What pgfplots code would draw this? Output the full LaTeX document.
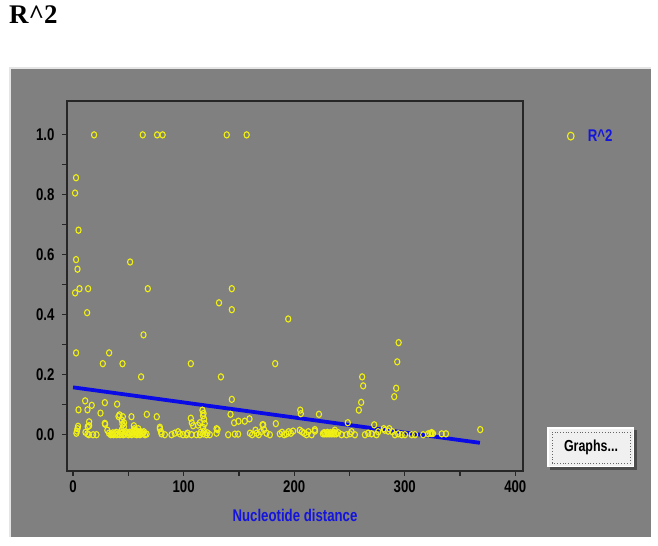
\documentclass[border=0pt]{standalone}
\usepackage{pgfplots}
\pgfplotsset{compat=1.18}
\usepackage{fontspec}
\setmainfont{Liberation Sans}
\newfontfamily\uifont[FakeStretch=0.78]{Liberation Sans}
\newfontfamily\titlefont{Liberation Serif}
\definecolor{panelgray}{RGB}{128,128,128}
\definecolor{dotyellow}{RGB}{240,240,20}
\definecolor{fitblue}{RGB}{10,10,230}
\definecolor{labelblue}{RGB}{20,20,220}
\begin{document}
\begin{tikzpicture}
\begin{scope}[x=1bp,y=1bp]
% canvas and panel
\fill[white] (0,0) rectangle (658,546);
\fill[panelgray] (9,9) rectangle (651,479);
\draw[gray!20,line width=2bp] (10,9) -- (10,478) -- (651,478);
\node[anchor=base west,inner sep=0pt,font=\titlefont\bfseries\fontsize{27}{27}\selectfont] at (9,522) {R\^{}2};
% button
\fill[black!70] (550,76) rectangle (637,116);
\fill[white] (547,79) rectangle (634,119);
\fill[gray!12] (549,80) rectangle (633,117);
\draw[black!60,dotted,line width=0.8bp] (552,83) rectangle (630,114);
\node[font=\uifont\bfseries\fontsize{16}{16}\selectfont] at (591,99) {Graphs...};
\end{scope}
\begin{axis}[
  at={(67bp,75bp)}, anchor=south west,
  scale only axis, width=456bp, height=370bp,
  xmin=-5.5, xmax=407, ymin=-0.121, ymax=1.113,
  axis line style={black!85,line width=1.2bp},
  axis background/.style={fill=panelgray},
  xtick={0,100,200,300,400}, xticklabels={0,100,200,300,400},
  minor xtick={50,150,250,350},
  ytick={0,0.2,0.4,0.6,0.8,1.0}, yticklabels={0.0,0.2,0.4,0.6,0.8,1.0},
  minor ytick={0.1,0.3,0.5,0.7,0.9},
  tick align=outside, xtick pos=bottom, ytick pos=left,
  major tick length=5bp, minor tick length=5bp,
  tick style={black!85,line width=1.2bp},
  tick label style={font=\uifont\bfseries\fontsize{17}{17}\selectfont,black},
  yticklabel style={xshift=-4bp},
  xticklabel style={yshift=-1bp},
  xlabel={Nucleotide distance},
  xlabel style={font=\uifont\bfseries\fontsize{17}{17}\selectfont,text=labelblue,yshift=-10bp},
  legend style={at={(1.078,0.905)},anchor=west,draw=none,fill=none,
    font=\uifont\bfseries\fontsize{17}{17}\selectfont,text=labelblue},
  legend image code/.code={\path[draw=none,fill=none] (0bp,0bp) -- (24bp,0bp);
    \draw[#1,mark size=3.3bp] plot coordinates {(9bp,0bp)};},
  clip=false,
]
\addplot[only marks, mark=o, dotyellow, mark size=2.6bp,
  mark options={line width=1.1bp,yscale=1.2}] coordinates {
(19,1.0)(63,1.0)(76,1.0)(81,1.0)(139,1.0)(157,1.0)
(2.7,0.857)(1.8,0.806)(4.9,0.682)(2.7,0.584)(4,0.552)(51.6,0.576)
(1.8,0.473)(5.8,0.487)(13.6,0.487)(67.6,0.487)(143.6,0.487)(132,0.44)
(12.7,0.407)(143.6,0.417)(63.7,0.333)(2.7,0.273)(32.6,0.273)
(26.9,0.237)(44.7,0.237)(106.5,0.237)(182.8,0.237)(194.6,0.386)
(61.5,0.193)(133.7,0.193)(143.6,0.118)
(294.5,0.307)(293.2,0.243)(261.5,0.193)(262.4,0.163)(292.3,0.155)(290.5,0.127)(260.6,0.108)(258.5,0.082)
(10.9,0.113)(4.9,0.083)(13,0.083)(16.9,0.098)(28.7,0.107)(39.8,0.102)(24.8,0.072)(41.1,0.061)(45,0.06)(52.8,0.06)(66.7,0.068)(75.7,0.06)
(14.5,0.043)(14.5,0.03)(29,0.035)(44.7,0.035)(42,0.066)(44,0.049)(46,0.04)(28.7,0.038)
(117,0.082)(118,0.071)(117.5,0.063)(118.5,0.052)(106.5,0.055)(107.4,0.04)(108.6,0.03)(113,0.032)(114.7,0.04)(119,0.037)(117.6,0.025)
(142.4,0.068)(145.7,0.04)(149.6,0.045)(155.3,0.045)(159.6,0.053)(130.7,0.017)
(205.5,0.082)(206,0.07)(222.4,0.068)(183.4,0.037)(172,0.033)(248.5,0.04)(272.4,0.033)(218.7,0.017)(281,0.02)(286,0.02)(368.3,0.017)
(3,0.005)(3.5,0.012)(4,0.02)(4.5,0.028)
(11.2,0.008)(13,0.003)(14.2,0)(18.1,0)(21.2,0)(13.3,0.027)
(31,0.015)(32.5,0.005)(34,0)
(35,0.002)(36.5,0)(38,0.004)(39.5,0)(41,0.003)(42.5,0)(44,0.005)(45.5,0)(47,0.002)(48.5,0.006)(50,0)(51.5,0.003)(53,0)(54.5,0.005)(56,0.002)(57.5,0)(59,0.004)(60.5,0)(62,0.003)(63.5,0.006)(65,0)(66.5,0.002)
(36,0.006)(39,0.008)(43,0.009)(47.5,0.01)(51,0.008)(53.5,0.01)(57,0.009)(60,0.008)(64,0.01)
(44,0.016)(46,0.027)(55,0.03)(55.5,0.02)(56,0.015)(58,0.012)(59,0.02)(61,0.01)
(78.5,0.025)(78.5,0.02)(79.5,0.01)(80,0.003)(83,0)(89,0)(92,0.005)(95,0.01)(96.6,0.003)(99.5,0)(102.6,0)
(103.5,0.005)(107.1,0)(111.7,0)(114.7,0)(117.7,0.003)(120.7,0)(123.7,0)(129.8,0.02)(129.8,0.005)(140.3,0)(146.3,0.002)(149.3,0.002)
(115.5,0.008)(118.5,0.012)(121.5,0.006)
(160,0.005)(162,0)(165,0.015)(166,0.005)(168,0)(170,0.01)(171.4,0.033)(172.8,0.017)(175,0.005)(178,0)
(187,0.003)(189,0.008)(191,0)(193,0.003)(195,0.01)(197,0.005)(199,0.012)
(205,0.015)(207,0.01)(209,0.005)(211.2,0)(212.8,0.01)(215.8,0)(218.8,0.012)
(226,0.003)(227.5,0.003)(229,0.003)(230.5,0.003)(232,0.003)(233.5,0.003)(235,0.003)(236.5,0.003)(238,0.003)
(227,0.007)(230,0.008)(233,0.007)(236,0.008)
(236.8,0.015)(239.8,0.007)(242.8,0)(247.4,0)(250.4,0.003)(251.9,0.01)(254.9,0)
(264,0)(267,0.005)(270,0.003)(274.5,0)(276,0.01)(282,0.015)(285,0.012)(288.7,0.01)(291.1,0)
(294.1,0.003)(297.2,0)(300.2,0)(306.3,0)(309.3,0)(316.7,0)(321.2,0.003)
(323,0.004)(324.3,0.004)(325.5,0.004)(324.3,0.007)(333.4,0.003)(337.3,0.003)
};
\addlegendentry{R\^{}2}
\addplot[fitblue, line width=3.8bp, forget plot] coordinates {(0,0.158) (368,-0.027)};
\end{axis}
\end{tikzpicture}
\end{document}
